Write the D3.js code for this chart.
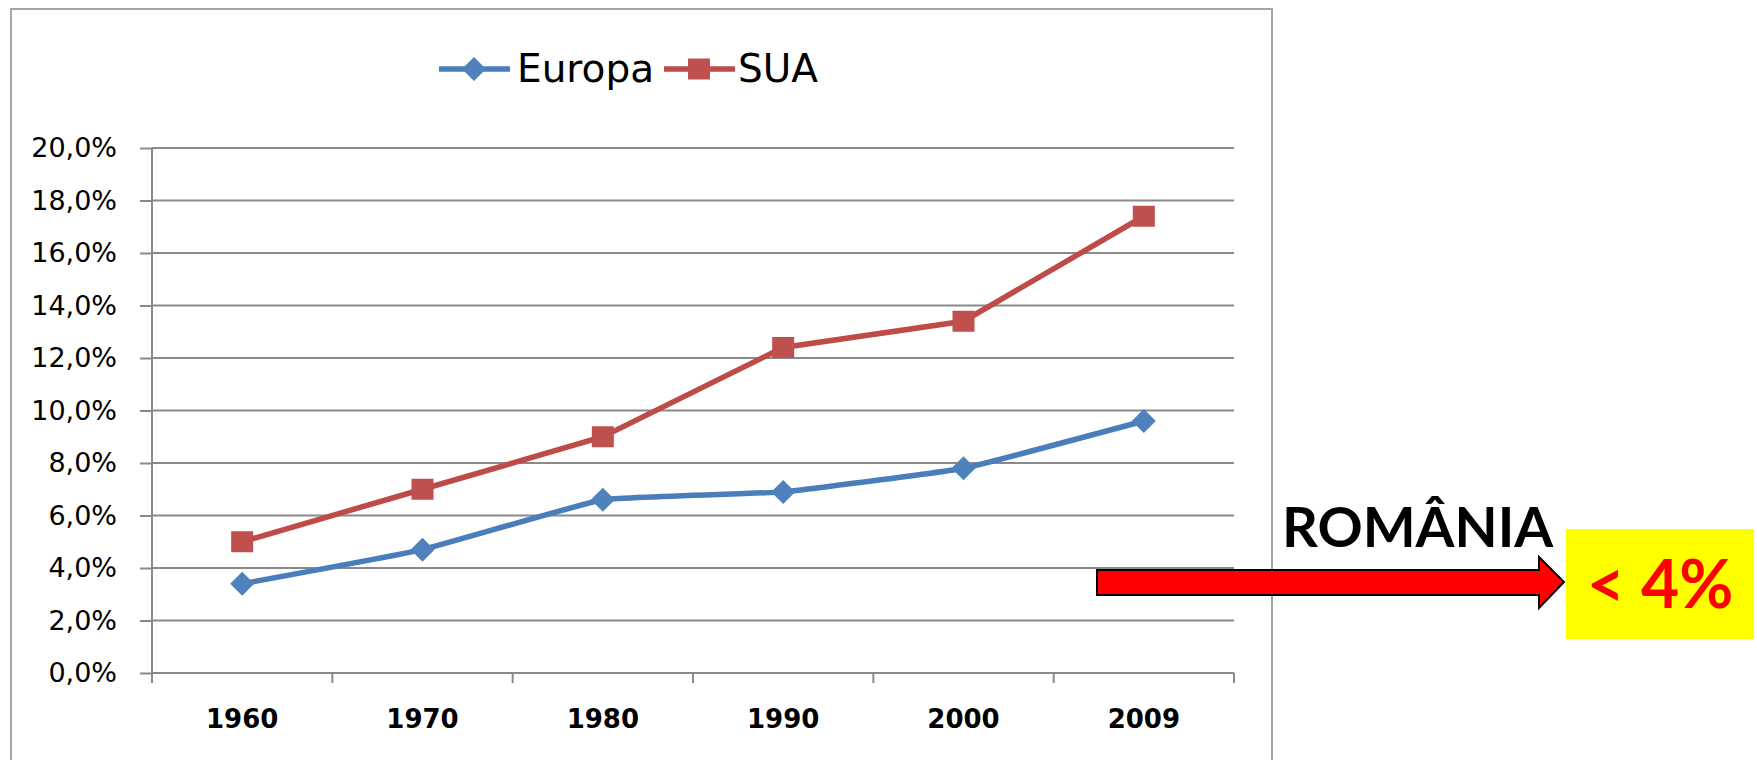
<!DOCTYPE html>
<html>
<head>
  <meta charset="utf-8">
  <title></title>
  <style type="text/css">
    body { margin: 0; background: #fff; }
    .chart text { font-family: "DejaVu Sans", sans-serif; }
    .chart text.note { font-family: Lato, "Open Sans", sans-serif; font-weight: bold; }
  </style>
</head>
<body>
  <div id="my_dataviz"></div>
</body>
<script src="https://d3js.org/d3.v7.min.js"></script>

<script type="text/javascript">

      var years = ["1960", "1970", "1980", "1990", "2000", "2009"];
      var europa = [3.4, 4.7, 6.6, 6.9, 7.8, 9.6];
      var sua = [5.0, 7.0, 9.0, 12.4, 13.4, 17.4];
      var yTicks = [0, 2, 4, 6, 8, 10, 12, 14, 16, 18, 20];
      var seriesNames = ["Europa", "SUA"];

      var W = 1757, H = 760;
      var plotLeft = 152, plotRight = 1234, plotTop = 148, plotBottom = 673;

      var svg = d3.select("#my_dataviz")
        .append("svg")
          .attr("width", W)
          .attr("height", H)
          .attr("class", "chart");

      // chart frame (runs off the bottom of the picture)
      svg.append("rect")
        .attr("x", 11).attr("y", 9)
        .attr("width", 1261).attr("height", 800)
        .attr("fill", "#fff")
        .attr("stroke", "#a6a6a6")
        .attr("stroke-width", 2);

      var x = d3.scaleBand()
        .domain(years)
        .range([plotLeft, plotRight])
        .padding(0);

      var y = d3.scaleLinear()
        .domain([0, 20])
        .range([plotBottom, plotTop]);

      var fmt = function(d) { return d3.format(".1f")(d).replace(".", ",") + "%"; };

      // gridlines
      svg.append("g")
        .selectAll("line")
        .data(yTicks)
        .enter().append("line")
          .attr("x1", plotLeft).attr("x2", plotRight)
          .attr("y1", function(d) { return y(d); })
          .attr("y2", function(d) { return y(d); })
          .attr("stroke", "#8a8a8a")
          .attr("stroke-width", 2);

      // Y axis
      var yAxis = svg.append("g")
        .attr("transform", "translate(" + plotLeft + ",0)")
        .call(d3.axisLeft(y).tickValues(yTicks).tickFormat(fmt).tickSize(12).tickPadding(23));
      yAxis.select(".domain").remove();
      yAxis.selectAll("line").attr("stroke", "#8a8a8a").attr("stroke-width", 2);
      yAxis.selectAll("text").style("font-size", "27px").attr("fill", "#000");

      // vertical axis line
      svg.append("line")
        .attr("x1", plotLeft).attr("x2", plotLeft)
        .attr("y1", y(20)).attr("y2", plotBottom + 10)
        .attr("stroke", "#8a8a8a").attr("stroke-width", 2);

      // X axis labels
      var xAxis = svg.append("g")
        .attr("transform", "translate(0," + plotBottom + ")")
        .call(d3.axisBottom(x).tickSize(0).tickPadding(37));
      xAxis.select(".domain").remove();
      xAxis.selectAll("text").style("font-size", "26px").style("font-weight", "bold").attr("fill", "#000");

      // tick marks between categories
      var bounds = years.map(function(d) { return x(d); }).concat([x.range()[1]]);
      svg.append("g")
        .selectAll("line")
        .data(bounds)
        .enter().append("line")
          .attr("x1", function(d) { return d; })
          .attr("x2", function(d) { return d; })
          .attr("y1", plotBottom).attr("y2", plotBottom + 10)
          .attr("stroke", "#8a8a8a").attr("stroke-width", 2);

      var cx = function(d, i) { return x(years[i]) + x.bandwidth() / 2; };

      var lineBlue = "#4A7EBB", fillBlue = "#4F81BD";
      var lineRed = "#BE4B48", fillRed = "#C0504D";

      var line = d3.line()
        .x(function(d, i) { return cx(d, i); })
        .y(function(d) { return y(d); });

      svg.append("path")
        .datum(sua)
        .attr("d", line)
        .attr("fill", "none")
        .attr("stroke", lineRed)
        .attr("stroke-width", 5.5);

      svg.append("path")
        .datum(europa)
        .attr("d", line.curve(d3.curveCardinal.tension(0.7)))
        .attr("fill", "none")
        .attr("stroke", lineBlue)
        .attr("stroke-width", 5.5);

      // markers
      var diamond = function(s) { return "M0," + (-s) + "L" + s + ",0L0," + s + "L" + (-s) + ",0Z"; };

      svg.append("g")
        .selectAll("rect")
        .data(sua)
        .enter().append("rect")
          .attr("x", function(d, i) { return cx(d, i) - 11; })
          .attr("y", function(d) { return y(d) - 10.5; })
          .attr("width", 22).attr("height", 21)
          .attr("fill", fillRed);

      svg.append("g")
        .selectAll("path")
        .data(europa)
        .enter().append("path")
          .attr("transform", function(d, i) { return "translate(" + cx(d, i) + "," + y(d) + ")"; })
          .attr("d", diamond(12))
          .attr("fill", fillBlue);

      // legend
      var legend = svg.append("g");
      var legX = [439, 664];
      var legColors = [[lineBlue, fillBlue], [lineRed, fillRed]];
      seriesNames.forEach(function(name, i) {
        var g = legend.append("g").attr("transform", "translate(" + legX[i] + ",69)");
        g.append("line").attr("x1", 0).attr("x2", 71).attr("y1", 0).attr("y2", 0)
          .attr("stroke", legColors[i][0]).attr("stroke-width", 5.5);
        if (i === 0) {
          g.append("path").attr("transform", "translate(35,0)").attr("d", diamond(12)).attr("fill", legColors[i][1]);
        } else {
          g.append("rect").attr("x", 24).attr("y", -10.5).attr("width", 22).attr("height", 21).attr("fill", legColors[i][1]);
        }
        g.append("text").attr("x", i === 0 ? 78 : 74).attr("y", 13)
          .style("font-size", "39px").style("fill", "#000").text(name);
      });

      // annotation
      svg.append("text")
        .attr("class", "note")
        .attr("x", 1282).attr("y", 547)
        .style("font-size", "56px")
        .style("fill", "#000")
        .text("ROMÂNIA");

      svg.append("path")
        .attr("d", "M1097,570L1539,570L1539,557L1564,582L1539,608L1539,595L1097,595Z")
        .attr("fill", "#ff0000")
        .attr("stroke", "#000")
        .attr("stroke-width", 2);

      svg.append("rect")
        .attr("x", 1566).attr("y", 529)
        .attr("width", 188).attr("height", 110)
        .attr("fill", "#ffff00");

      svg.append("text")
        .attr("class", "note")
        .attr("x", 1660).attr("y", 608)
        .attr("text-anchor", "middle")
        .style("font-size", "66px")
        .style("fill", "#ff0000")
        .text("< 4%");

</script>
</html>
